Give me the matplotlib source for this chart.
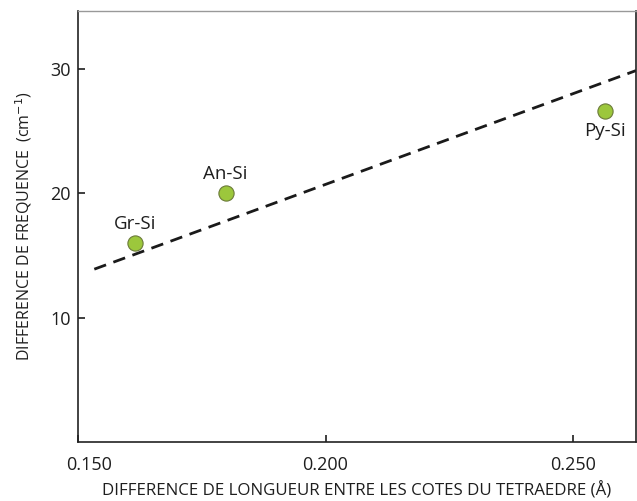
import matplotlib
matplotlib.use("Agg")
import matplotlib.pyplot as plt
from matplotlib.transforms import ScaledTranslation

plt.rcParams['font.family'] = ['Open Sans', 'DejaVu Sans']

# Sample points: tetrahedral edge-length difference vs frequency difference
labels = ["Gr-Si", "An-Si", "Py-Si"]
edge_diff = [0.1615, 0.1798, 0.2565]
freq_diff = [16.0, 20.0, 26.65]

# Trend line end points
trend_x = [0.1533, 0.2627]
trend_y = [13.9, 29.9]

xticks = [0.150, 0.200, 0.250]
xtick_labels = ["0.150", "0.200", "0.250"]
yticks = [10, 20, 30]

fig = plt.figure(figsize=(6.37, 5.01), dpi=100)
ax = fig.add_axes([0.1224, 0.1184, 0.876, 0.8596])

ax.plot(trend_x, trend_y, linestyle=(0, (4.5, 2.8)), color="#1a1a1a", linewidth=2.0, zorder=2)
ax.scatter(edge_diff, freq_diff, s=120, color="#9cc73c", edgecolor="#6b7a3a", linewidth=0.8, zorder=3)

offsets = {"Gr-Si": (0, 7.5), "An-Si": (0, 7.5), "Py-Si": (0, -8)}
for lab, x, y in zip(labels, edge_diff, freq_diff):
    dx, dy = offsets[lab]
    ax.annotate(lab, (x, y), xytext=(dx, dy), textcoords="offset points",
                ha="center", va="bottom" if dy > 0 else "top", fontsize=13.5, color="#1e1e1e")

ax.set_xlim(0.150, 0.2627)
ax.set_ylim(0, 34.7)
ax.set_xticks(xticks)
ax.set_xticklabels(xtick_labels)
ax.set_yticks(yticks)
ax.tick_params(direction="in", length=5, width=1.2, labelsize=13, colors="#1e1e1e")
ax.tick_params(axis="x", pad=10)
ax.tick_params(axis="y", pad=5)

# keep the first x label clear of the axis corner
first = ax.get_xticklabels()[0]
first.set_transform(first.get_transform() + ScaledTranslation(8 / 72, 0, fig.dpi_scale_trans))

for side in ["left", "bottom", "right"]:
    ax.spines[side].set_color("#222222")
    ax.spines[side].set_linewidth(1.2)
ax.spines["top"].set_color("#999999")
ax.spines["top"].set_linewidth(1.0)

ax.set_xlabel("DIFFERENCE DE LONGUEUR ENTRE LES COTES DU TETRAEDRE (Å)", fontsize=12.2, color="#1e1e1e", labelpad=6)
ax.set_ylabel("DIFFERENCE DE FREQUENCE  (cm$^{-1}$)", fontsize=11.5, color="#1e1e1e", labelpad=12)

fig.savefig("out.png", dpi=100)
